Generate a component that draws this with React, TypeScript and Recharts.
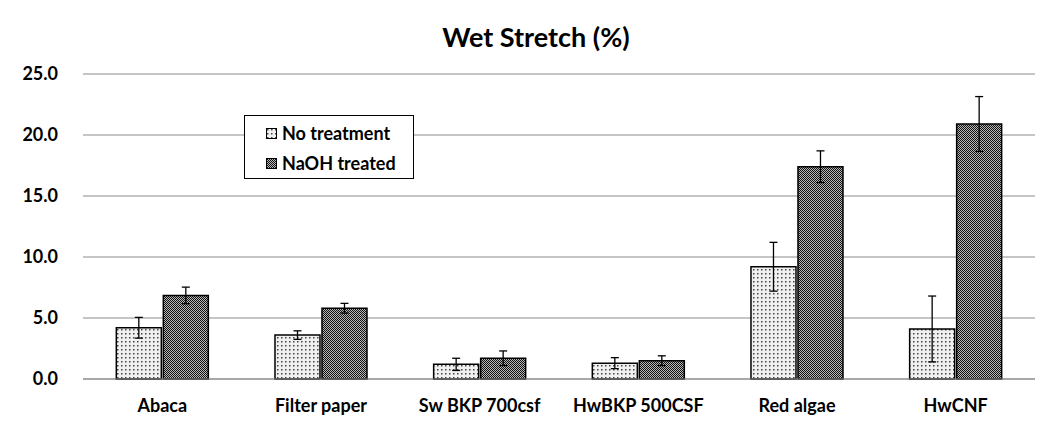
import { BarChart, Bar, XAxis, YAxis, CartesianGrid, ErrorBar, Legend } from "recharts";

const categories = ["Abaca", "Filter paper", "Sw BKP 700csf", "HwBKP 500CSF", "Red algae", "HwCNF"];
const noTreatment = [4.2, 3.6, 1.2, 1.3, 9.2, 4.1];
const noTreatmentErr = [0.85, 0.35, 0.5, 0.45, 2.0, 2.7];
const naohTreated = [6.85, 5.8, 1.7, 1.5, 17.4, 20.9];
const naohTreatedErr = [0.68, 0.4, 0.6, 0.4, 1.3, 2.25];
const yTicks = [0, 5, 10, 15, 20, 25];

const data = categories.map((name, i) => ({
  name,
  nt: noTreatment[i],
  ntErr: noTreatmentErr[i],
  naoh: naohTreated[i],
  naohErr: naohTreatedErr[i],
}));

const FONT = "Lato, 'Open Sans', sans-serif";

function LegendBox() {
  const items = [
    { label: "No treatment", fill: "url(#dotsLight)" },
    { label: "NaOH treated", fill: "url(#checkDark)" },
  ];
  return (
    <div
      style={{
        border: "1px solid #000",
        background: "#fff",
        width: 170,
        height: 64,
        boxSizing: "border-box",
        padding: "3px 0 0 21px",
        fontFamily: FONT,
        fontWeight: 700,
        fontSize: 18,
        color: "#000",
      }}
    >
      {items.map((it) => (
        <div key={it.label} style={{ display: "flex", alignItems: "center", height: 28, marginBottom: 2 }}>
          <svg width={11} height={11} style={{ marginRight: 5 }}>
            <rect x={0.5} y={0.5} width={10} height={10} fill={it.fill} stroke="#000" strokeWidth={1} />
          </svg>
          {it.label}
        </div>
      ))}
    </div>
  );
}

export default function App() {
  return (
    <div style={{ position: "absolute", left: 0, top: 0, width: 1057, height: 422, background: "#fff" }}>
      <div
        style={{
          position: "absolute",
          left: 0,
          width: 1072,
          top: 20,
          textAlign: "center",
          fontFamily: FONT,
          fontWeight: 700,
          fontSize: 27,
          color: "#000",
        }}
      >
        Wet Stretch (%)
      </div>
      <BarChart
        width={1057}
        height={422}
        data={data}
        margin={{ top: 74, right: 22, left: 0, bottom: 13 }}
        barGap={2}
        barCategoryGap="21%"
      >
        <defs>
          <pattern id="dotsLight" width={4} height={4} patternUnits="userSpaceOnUse">
            <rect width={4} height={4} fill="#f0f0f0" />
            <rect x={1} y={1} width={1.5} height={1.5} fill="#444" />
          </pattern>
          <pattern id="checkDark" width={2} height={2} patternUnits="userSpaceOnUse">
            <rect width={2} height={2} fill="#b8b8b8" />
            <rect x={0} y={0} width={1} height={1} fill="#111" />
            <rect x={1} y={1} width={1} height={1} fill="#111" />
          </pattern>
        </defs>
        <CartesianGrid vertical={false} stroke="#8c8c8c" strokeWidth={1.2} />
        <XAxis
          dataKey="name"
          height={30}
          axisLine={{ stroke: "#8c8c8c", strokeWidth: 1.2 }}
          tickLine={false}
          tickMargin={14}
          tick={{ fontFamily: FONT, fontWeight: 700, fontSize: 18, fill: "#000" }}
        />
        <YAxis
          width={83}
          domain={[0, 25]}
          ticks={yTicks}
          tickFormatter={(v: number) => v.toFixed(1)}
          axisLine={false}
          tickLine={false}
          tickMargin={19}
          tick={{ fontFamily: FONT, fontWeight: 700, fontSize: 18, fill: "#000" }}
        />
        <Legend
          layout="vertical"
          align="center"
          verticalAlign="middle"
          wrapperStyle={{ left: 244, top: 115, width: 170, height: 64 }}
          content={() => <LegendBox />}
        />
        <Bar dataKey="nt" name="No treatment" fill="url(#dotsLight)" stroke="#000" strokeWidth={1.5} isAnimationActive={false}>
          <ErrorBar dataKey="ntErr" width={4} stroke="#000" strokeWidth={1.3} />
        </Bar>
        <Bar dataKey="naoh" name="NaOH treated" fill="url(#checkDark)" stroke="#000" strokeWidth={1.5} isAnimationActive={false}>
          <ErrorBar dataKey="naohErr" width={4} stroke="#000" strokeWidth={1.3} />
        </Bar>
      </BarChart>
    </div>
  );
}
